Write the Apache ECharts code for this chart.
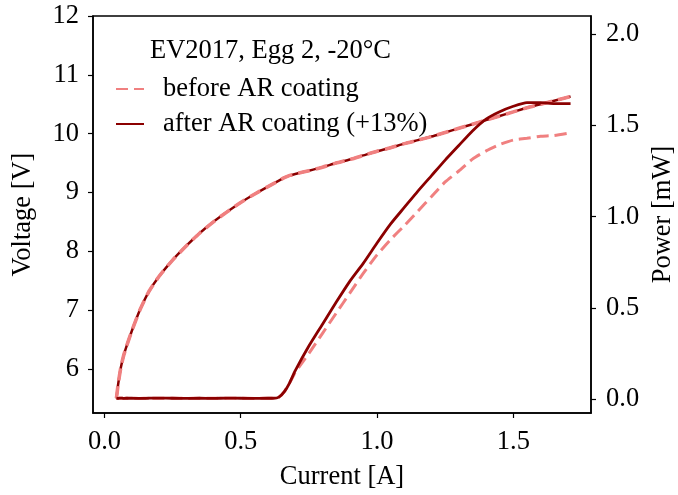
<!DOCTYPE html>
<html><head><meta charset="utf-8">
<script src="https://cdn.jsdelivr.net/npm/echarts@6/dist/echarts.min.js"></script>
<style>html,body{margin:0;padding:0;background:#fff}#c{width:678px;height:495px}</style>
</head><body><div id="c"></div>
<script>
const current = [0.044,0.05,0.06,0.07,0.08,0.10,0.13,0.16,0.20,0.25,0.30,0.35,0.40,0.45,0.50,0.55,0.60,0.62,0.64,0.66,0.68,0.70,0.75,0.80,0.85,0.90,0.95,1.00,1.05,1.10,1.15,1.20,1.25,1.30,1.35,1.40,1.45,1.50,1.55,1.60,1.65,1.71];
const voltageBefore = [5.50,5.73,6.02,6.22,6.37,6.64,7.00,7.29,7.57,7.85,8.09,8.31,8.50,8.67,8.83,8.97,9.10,9.15,9.20,9.25,9.29,9.315,9.37,9.43,9.50,9.56,9.63,9.70,9.76,9.83,9.89,9.95,10.02,10.09,10.16,10.23,10.30,10.37,10.44,10.50,10.56,10.63];
const voltageAfter = [5.50,5.73,6.02,6.22,6.37,6.64,7.00,7.29,7.57,7.85,8.09,8.31,8.50,8.67,8.83,8.97,9.10,9.15,9.20,9.25,9.29,9.315,9.37,9.43,9.50,9.56,9.63,9.70,9.76,9.83,9.89,9.95,10.02,10.09,10.16,10.23,10.30,10.37,10.44,10.50,10.56,10.63];
const powerAfter = [0.004,0.003,0.005,0.003,0.004,0.004,0.003,0.004,0.005,0.004,0.003,0.004,0.003,0.005,0.004,0.003,0.004,0.004,0.01,0.04,0.09,0.155,0.29,0.41,0.53,0.645,0.745,0.855,0.96,1.05,1.14,1.225,1.31,1.39,1.47,1.535,1.575,1.605,1.625,1.625,1.62,1.62];
const powerBefore = [0.004,0.003,0.004,0.003,0.004,0.005,0.003,0.004,0.004,0.004,0.003,0.004,0.004,0.004,0.004,0.003,0.004,0.004,0.01,0.04,0.09,0.145,0.25,0.36,0.47,0.58,0.69,0.79,0.875,0.95,1.03,1.11,1.19,1.25,1.315,1.36,1.395,1.42,1.43,1.44,1.445,1.46];
const xTicks = [0, 0.5, 1.0, 1.5];
const vTicks = [6, 7, 8, 9, 10, 11, 12];
const pTicks = [0, 0.5, 1.0, 1.5, 2.0];
const names = ['before AR coating', 'after AR coating (+13%)'];
const titleText = 'EV2017, Egg 2, -20°C';

const pair = (xs, ys) => xs.map((x, i) => [x, ys[i]]);
const FONT = 'Liberation Serif';
const FS = 26.5;
const LIGHT = '#F08080', DARK = '#8B0000';

const chart = echarts.init(document.getElementById('c'), null, {renderer: 'canvas'});
chart.setOption({
  animation: false,
  backgroundColor: '#fff',
  textStyle: {fontFamily: FONT, color: '#000'},
  grid: {left: 93, right: 87, top: 16, bottom: 82, outerBoundsMode: 'none', containLabel: false,
         show: true, borderColor: '#000', borderWidth: 1.5, backgroundColor: 'transparent'},
  xAxis: {
    type: 'value', min: -0.042, max: 1.785,
    name: 'Current [A]', nameLocation: 'middle', nameGap: 51,
    nameTextStyle: {fontFamily: FONT, fontSize: FS, color: '#000'},
    axisLine: {show: true, onZero: false, lineStyle: {color: '#000', width: 1.5}},
    axisTick: {show: true, inside: false, length: 5, customValues: xTicks, lineStyle: {color: '#000', width: 1.2}},
    axisLabel: {customValues: xTicks, margin: 16, fontFamily: FONT, fontSize: FS, color: '#000', formatter: v => v.toFixed(1)},
    splitLine: {show: false}
  },
  yAxis: [{
    type: 'value', min: 5.25, max: 12.0, position: 'left',
    name: 'Voltage [V]', nameLocation: 'middle', nameGap: 56, nameRotate: 90,
    nameTextStyle: {fontFamily: FONT, fontSize: FS, color: '#000'},
    axisLine: {show: true, onZero: false, lineStyle: {color: '#000', width: 1.5}},
    axisTick: {show: true, inside: false, length: 5, customValues: vTicks, lineStyle: {color: '#000', width: 1.2}},
    axisLabel: {customValues: vTicks, margin: 14, fontFamily: FONT, fontSize: FS, color: '#000', formatter: v => String(Math.round(v))},
    splitLine: {show: false}
  }, {
    type: 'value', min: -0.077, max: 2.1, position: 'right',
    name: 'Power [mW]', nameLocation: 'middle', nameGap: 58, nameRotate: 90,
    nameTextStyle: {fontFamily: FONT, fontSize: FS, color: '#000'},
    axisLine: {show: true, onZero: false, lineStyle: {color: '#000', width: 1.5}},
    axisTick: {show: true, inside: false, length: 5, customValues: pTicks, lineStyle: {color: '#000', width: 1.2}},
    axisLabel: {customValues: pTicks, margin: 15, fontFamily: FONT, fontSize: FS, color: '#000', formatter: v => v.toFixed(1)},
    splitLine: {show: false}
  }],
  legend: {
    data: names, orient: 'vertical', left: 115, top: 74, itemGap: 5, padding: 0,
    itemWidth: 28, itemHeight: 10,
    itemStyle: {opacity: 0, borderWidth: 0},
    textStyle: {fontFamily: FONT, fontSize: FS, color: '#000', lineHeight: 30, padding: [0, 0, 0, 14]}
  },
  graphic: [{
    type: 'text', left: 150, top: 38,
    style: {text: titleText, font: FS + 'px "Liberation Serif"', fill: '#000'}
  }],
  series: [
    {name: 'vAfter', type: 'line', yAxisIndex: 0, data: pair(current, voltageAfter), showSymbol: false, symbol: 'none', smooth: 0.2,
     lineStyle: {color: DARK, width: 2.5}, z: 2},
    {name: 'vBefore', type: 'line', yAxisIndex: 0, data: pair(current, voltageBefore), showSymbol: false, symbol: 'none', smooth: 0.2,
     lineStyle: {color: LIGHT, width: 3.6, type: [12, 6]}, z: 3},
    {name: names[0], type: 'line', yAxisIndex: 1, data: pair(current, powerBefore), showSymbol: false, symbol: 'none', smooth: 0.2,
     itemStyle: {color: LIGHT}, lineStyle: {color: LIGHT, width: 3, type: [12, 6]}, z: 3},
    {name: names[1], type: 'line', yAxisIndex: 1, data: pair(current, powerAfter), showSymbol: false, symbol: 'none', smooth: 0.2,
     itemStyle: {color: DARK}, lineStyle: {color: DARK, width: 2.8}, z: 4}
  ]
});
</script></body></html>
